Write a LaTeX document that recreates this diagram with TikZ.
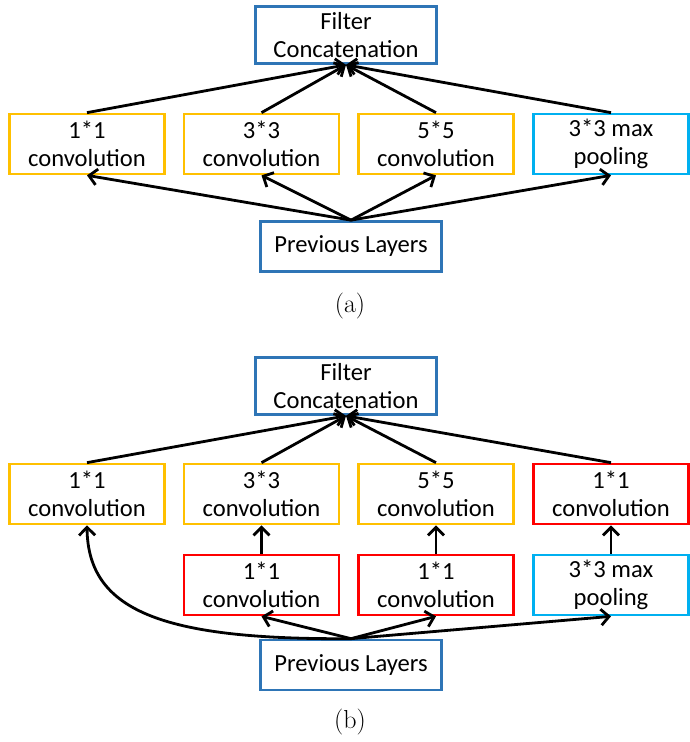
\documentclass[tikz,border=0pt]{standalone}
\usepackage{fontspec}
\newfontfamily\boxfont{Carlito}
\usetikzlibrary{arrows.meta}
\definecolor{ybox}{HTML}{FFC000}
\definecolor{bbox}{HTML}{2E75B6}
\definecolor{cbox}{HTML}{00B0F0}
\definecolor{rbox}{HTML}{FF0000}
\tikzset{
  blk/.style={draw, line width=2.7pt, minimum width=155pt, minimum height=60pt,
    inner sep=0pt, align=center, font=\boxfont\fontsize{24.6}{28.5}\selectfont},
  wide/.style={blk, minimum width=181pt, minimum height=55pt},
  conn/.style={line width=2.8pt, -{Straight Barb[length=8pt, width=16pt, line width=2.8pt]}},
  captxt/.style={font=\fontsize{26}{30}\selectfont\rmfamily}
}
\begin{document}
\begin{tikzpicture}[x=1pt, y=-1pt]
\useasboundingbox (0,0) rectangle (689,742);
% ---- (a) naive module ----
\node[wide, draw=bbox, minimum height=57pt] (fa) at (346,35) {Filter\\Concatenation};
\node[blk, draw=ybox] (a1) at (87,144) {1*1\\convolution};
\node[blk, draw=ybox] (a2) at (261.5,144) {3*3\\convolution};
\node[blk, draw=ybox] (a3) at (436,144) {5*5\\convolution};
\node[blk, draw=cbox] (a4) at (611,144) {3*3 max\\pooling};
\node[wide, draw=bbox, minimum height=50pt] (pa) at (351,246.5) {Previous Layers};
\node[captxt] (capa) at (350,306) {(a)};
\foreach \n in {a1,a2,a3,a4} {
  \draw[conn] (\n.north) -- (fa.south);
  \draw[conn] (pa.north) -- (\n.south);
}
% ---- (b) module with dimension reductions ----
\node[wide, draw=bbox, minimum height=57pt] (fb) at (346,386) {Filter\\Concatenation};
\node[blk, draw=ybox] (b1) at (87,494) {1*1\\convolution};
\node[blk, draw=ybox] (b2) at (261.5,494) {3*3\\convolution};
\node[blk, draw=ybox] (b3) at (436,494) {5*5\\convolution};
\node[blk, draw=rbox] (b4) at (611,494) {1*1\\convolution};
\node[blk, draw=rbox] (r2) at (261.5,585) {1*1\\convolution};
\node[blk, draw=rbox] (r3) at (436,585) {1*1\\convolution};
\node[blk, draw=cbox] (r4) at (611,585) {3*3 max\\pooling};
\node[wide, draw=bbox, minimum height=50pt] (pb) at (351,665) {Previous Layers};
\node[captxt] (capb) at (350,722) {(b)};
\foreach \n in {b1,b2,b3,b4} {
  \draw[conn] (\n.north) -- (fb.south);
}
\draw[conn] (r2.north) -- (b2.south);
\draw[conn] (r3.north) -- (b3.south);
\draw[conn] (r4.north) -- (b4.south);
\foreach \n in {r2,r3,r4} {
  \draw[conn] (pb.north) -- (\n.south);
}
\draw[conn] (pb.north) .. controls (160,640) and (88,610) .. (b1.south);
\end{tikzpicture}
\end{document}
